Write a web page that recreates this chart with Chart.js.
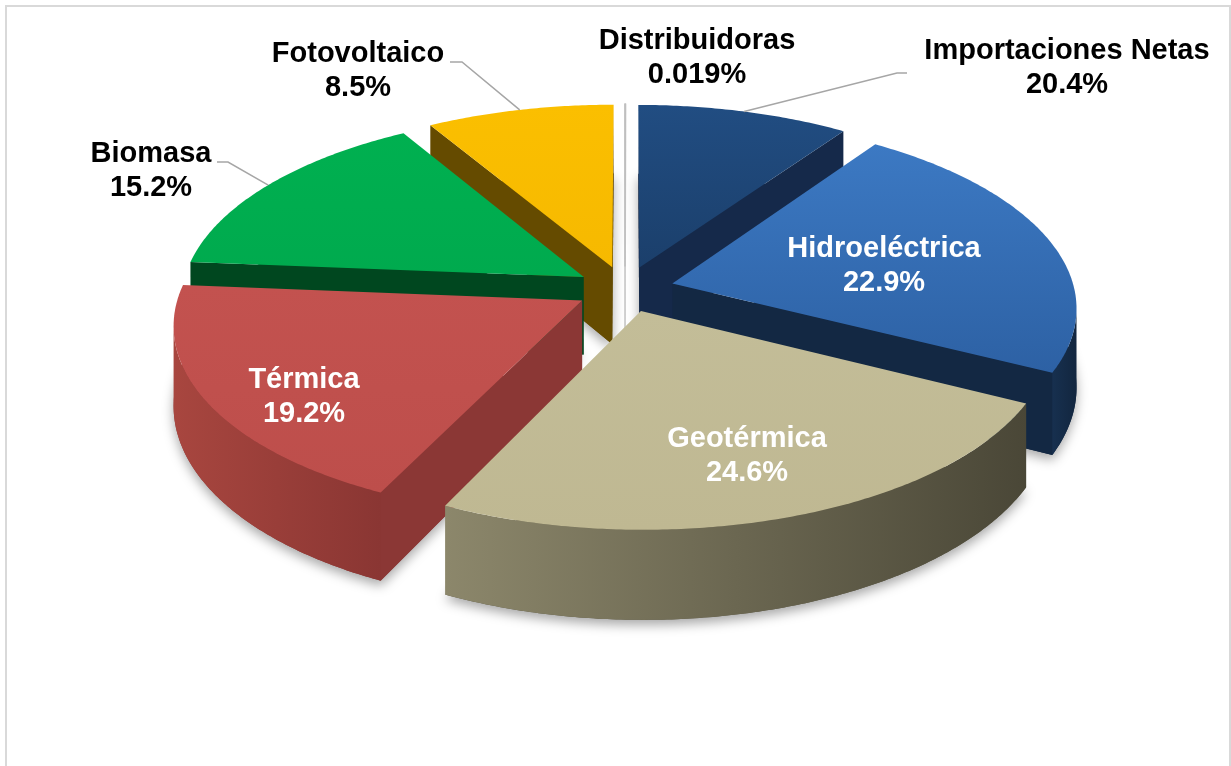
<!DOCTYPE html>
<html>
<head>
<meta charset="utf-8">
<script src="https://cdn.jsdelivr.net/npm/chart.js@4.4.1/dist/chart.umd.min.js"></script>
<style>
  body { margin: 0; background: #fff; }
  #chart { display: block; }
</style>
</head>
<body>
<canvas id="chart" width="1231" height="766"></canvas>
<script>
const categories = ['Distribuidoras', 'Importaciones Netas', 'Hidroeléctrica', 'Geotérmica', 'Térmica', 'Biomasa', 'Fotovoltaico'];
// slice sizes as they are drawn in the picture (the navy slice is drawn smaller than its label)
const sliceValues = [0.019, 9.6, 22.9, 24.6, 19.2, 15.2, 8.5];
const pctLabels = ['0.019%', '20.4%', '22.9%', '24.6%', '19.2%', '15.2%', '8.5%'];

// top face colours (top -> bottom of the face)
const faceTop = ['#d0d0d0', '#214d82', '#3c79c3', '#c3bd98', '#c3524f', '#00b050', '#fbbf00'];
const faceBottom = ['#c4c4c4', '#1b3f6b', '#2d61a4', '#bfb892', '#bd4e4b', '#00aa4e', '#f6b900'];
// cut walls and rounded side (light -> dark, left -> right)
const wallColors = ['#b0b0b0', '#15294a', '#132843', '#5a5644', '#8b3735', '#00471f', '#654b00'];
const sideLight = ['#bbbbbb', '#1b3a63', '#17304f', '#8c876b', '#a8463f', '#00753a', '#8a6a00'];
const sideDark = ['#999999', '#15294a', '#12263f', '#4a4737', '#8a3633', '#00471f', '#654b00'];

// where the labels sit (first baseline) and the elbow of the leader line
const labelPos = [
  { x: 697, y: 49, color: '#000' },
  { x: 1067, y: 59, color: '#000', elbow: [907, 73, 897, 73] },
  { x: 884, y: 257, color: '#fff' },
  { x: 747, y: 447, color: '#fff' },
  { x: 304, y: 388, color: '#fff' },
  { x: 151, y: 162, color: '#000', elbow: [217, 162, 228, 162] },
  { x: 358, y: 62, color: '#000', elbow: [450, 62, 462, 62] },
];

// perspective view of the flat pie
const view = { cx: 625, cy: 289, ax: 402, by: 187, tilt: 0.12, depth: 78 };

const project = (u, v, h) => {
  const k = 1 - view.tilt * v;
  return { x: view.cx + view.ax * u / k, y: view.cy + (view.by * v + h * view.depth) / k };
};

const sliceGeom = (el) => {
  const a0 = el.startAngle, a1 = el.endAngle;
  const mid = (a0 + a1) / 2;
  const d = el.options.offset / el.outerRadius;
  const ox = d * Math.cos(mid), oy = d * Math.sin(mid);
  return {
    a0, a1, mid, ox, oy,
    apex: (h) => project(ox, oy, h),
    rim: (a, h) => project(ox + Math.cos(a), oy + Math.sin(a), h),
  };
};

const arcAngles = (from, to) => {
  const n = Math.max(2, Math.ceil(Math.abs(to - from) / 0.01));
  const out = [];
  for (let j = 0; j <= n; j++) out.push(from + (to - from) * j / n);
  return out;
};

const facesCamera = (nu, nv, pu, pv) => nu * (0 - pu) + nv * (1 / view.tilt - pv) > 0;

const pathPoly = (ctx, pts) => {
  ctx.beginPath();
  pts.forEach((p, j) => j ? ctx.lineTo(p.x, p.y) : ctx.moveTo(p.x, p.y));
  ctx.closePath();
};

const drawWalls = (ctx, i, g) => {
  // cut walls
  const walls = [
    { a: g.a0, n: [Math.sin(g.a0), -Math.cos(g.a0)] },
    { a: g.a1, n: [-Math.sin(g.a1), Math.cos(g.a1)] },
  ];
  walls.forEach(w => {
    const pu = g.ox + Math.cos(w.a) / 2, pv = g.oy + Math.sin(w.a) / 2;
    if (!facesCamera(w.n[0], w.n[1], pu, pv)) return;
    pathPoly(ctx, [g.apex(0), g.rim(w.a, 0), g.rim(w.a, 1), g.apex(1)]);
    ctx.fillStyle = wallColors[i];
    ctx.fill();
    if (i === 0) {
      // the tiny slice is seen edge-on, show it as a thin line
      ctx.strokeStyle = '#cfcfcf';
      ctx.lineWidth = 1.5;
      ctx.stroke();
    }
  });

  // rounded outer side, only the part turned to the viewer
  const seen = arcAngles(g.a0, g.a1).filter(a =>
    facesCamera(Math.cos(a), Math.sin(a), g.ox + Math.cos(a), g.oy + Math.sin(a)));
  if (seen.length < 2) return;
  const top = seen.map(a => g.rim(a, 0));
  const bottom = seen.map(a => g.rim(a, 1)).reverse();
  const xs = top.map(p => p.x);
  const grad = ctx.createLinearGradient(Math.min(...xs), 0, Math.max(...xs), 0);
  grad.addColorStop(0, sideLight[i]);
  grad.addColorStop(1, sideDark[i]);
  pathPoly(ctx, top.concat(bottom));
  ctx.fillStyle = grad;
  ctx.fill();
};

const drawTop = (ctx, i, g) => {
  const pts = [g.apex(0)].concat(arcAngles(g.a0, g.a1).map(a => g.rim(a, 0)));
  const ys = pts.map(p => p.y);
  const grad = ctx.createLinearGradient(0, Math.min(...ys), 0, Math.max(...ys));
  grad.addColorStop(0, faceTop[i]);
  grad.addColorStop(1, faceBottom[i]);
  pathPoly(ctx, pts);
  ctx.fillStyle = grad;
  ctx.fill();
  if (i === 0) {
    ctx.strokeStyle = '#bfbfbf';
    ctx.lineWidth = 1.5;
    ctx.stroke();
  }
};

const pie3d = {
  id: 'pie3d',
  beforeDraw(chart) {
    const ctx = chart.ctx;
    ctx.save();
    ctx.strokeStyle = '#d9d9d9';
    ctx.lineWidth = 2;
    ctx.strokeRect(6, 6, 1224, 800);
    ctx.restore();
  },
  beforeDatasetsDraw(chart) {
    const ctx = chart.ctx;
    const meta = chart.getDatasetMeta(0);
    const slices = meta.data.map((el, i) => ({ i, g: sliceGeom(el) }));
    const order = slices.slice().sort((p, q) => Math.sin(p.g.mid) - Math.sin(q.g.mid));

    ctx.save();
    // soft shadow under the solids
    ctx.shadowColor = 'rgba(0,0,0,0.35)';
    ctx.shadowBlur = 12;
    ctx.shadowOffsetY = 5;
    order.forEach(({ i, g }) => {
      pathPoly(ctx, [g.apex(1)].concat(arcAngles(g.a0, g.a1).map(a => g.rim(a, 1))));
      ctx.fillStyle = wallColors[i];
      ctx.fill();
    });
    ctx.shadowColor = 'transparent';
    order.forEach(({ i, g }) => drawWalls(ctx, i, g));
    order.forEach(({ i, g }) => drawTop(ctx, i, g));
    ctx.restore();
    return false;
  },
  afterDraw(chart) {
    const ctx = chart.ctx;
    const meta = chart.getDatasetMeta(0);
    ctx.save();
    // leader lines
    ctx.strokeStyle = '#a6a6a6';
    ctx.lineWidth = 1.5;
    labelPos.forEach((lp, i) => {
      if (!lp.elbow) return;
      const g = sliceGeom(meta.data[i]);
      const end = g.rim(g.mid, 0);
      ctx.beginPath();
      ctx.moveTo(lp.elbow[0], lp.elbow[1]);
      ctx.lineTo(lp.elbow[2], lp.elbow[3]);
      ctx.lineTo(end.x, end.y);
      ctx.stroke();
    });
    ctx.font = 'bold 29px "Liberation Sans", Arial, sans-serif';
    ctx.textAlign = 'center';
    ctx.textBaseline = 'alphabetic';
    labelPos.forEach((lp, i) => {
      ctx.fillStyle = lp.color;
      ctx.fillText(categories[i], lp.x, lp.y);
      ctx.fillText(pctLabels[i], lp.x, lp.y + 34);
    });
    ctx.restore();
  }
};

new Chart(document.getElementById('chart'), {
  type: 'pie',
  data: {
    labels: categories,
    datasets: [{
      data: sliceValues,
      backgroundColor: faceTop,
      borderWidth: 0,
      offset: 44,
      hoverOffset: 0,
    }]
  },
  options: {
    responsive: false,
    animation: false,
    devicePixelRatio: 1,
    events: [],
    plugins: {
      legend: { display: false },
      tooltip: { enabled: false },
    },
  },
  plugins: [pie3d],
});
</script>
</body>
</html>
